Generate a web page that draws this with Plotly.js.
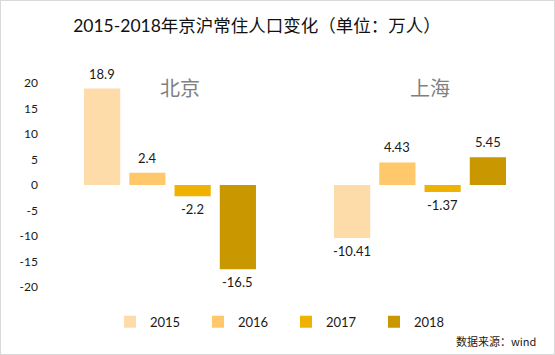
<!DOCTYPE html>
<html><head><meta charset="utf-8">
<script src="https://cdn.plot.ly/plotly-3.0.1.min.js"></script>
<style>
html,body{margin:0;padding:0;background:#fff;}
#chart{width:553px;height:353px;border:1px solid #d9d9d9;}
</style>
</head><body>
<div id="chart"></div>
<script>
const categories = ['北京', '上海'];
const years = ['2015', '2016', '2017', '2018'];
const v2015 = [18.9, -10.41];
const v2016 = [2.4, 4.43];
const v2017 = [-2.2, -1.37];
const v2018 = [-16.5, 5.45];
const labels2015 = ['18.9', '-10.41'];
const labels2016 = ['2.4', '4.43'];
const labels2017 = ['-2.2', '-1.37'];
const labels2018 = ['-16.5', '5.45'];
const yTicks = [20, 15, 10, 5, 0, -5, -10, -15, -20];
const source = '数据来源：wind';
const title = '2015-2018年京沪常住人口变化（单位：万人）';

const colors = ['#FDDCAA', '#FFC86A', '#F0B200', '#C99700'];
const series = [v2015, v2016, v2017, v2018];
const seriesLabels = [labels2015, labels2016, labels2017, labels2018];
const font = 'Lato, "Noto Sans CJK SC", sans-serif';

const bargap = 0.276;
const nS = series.length;
const slot = (1 - bargap) / nS;

const traces = series.map((vals, i) => ({
  type: 'bar', name: years[i], x: categories, y: vals,
  marker: {color: colors[i]}, hoverinfo: 'none'
}));

const annotations = [];
series.forEach((vals, i) => {
  vals.forEach((v, j) => {
    annotations.push({
      x: j - (1 - bargap) / 2 + slot * (i + 0.5), y: v, xref: 'x', yref: 'y',
      text: seriesLabels[i][j], showarrow: false,
      yshift: v >= 0 ? 15 : -13,
      font: {family: font, size: 13, color: '#1a1a1a'}
    });
  });
});
categories.forEach((c, j) => {
  annotations.push({
    x: j + 0.04, y: 1, xref: 'x', yref: 'paper', yanchor: 'middle', yshift: -4,
    text: c, showarrow: false,
    font: {family: '"Noto Sans CJK SC", sans-serif', size: 20, color: '#808080'}
  });
});
annotations.push({
  x: 0.986, y: -0.265, xref: 'paper', yref: 'paper', xanchor: 'right', yanchor: 'middle',
  text: source, showarrow: false,
  font: {family: '"Noto Sans CJK SC", sans-serif', size: 11, color: '#1a1a1a'}
});

const layout = {
  width: 553, height: 353,
  margin: {l: 44, r: 9, t: 82, b: 67},
  paper_bgcolor: '#fff', plot_bgcolor: '#fff',
  title: {text: title, x: 0.463, xanchor: 'center', y: 0.93, yanchor: 'middle', yref: 'container',
          font: {family: font, size: 17.5, color: '#111'}},
  barmode: 'group', bargap: bargap, bargroupgap: 0.2,
  xaxis: {showticklabels: false, showline: false, showgrid: false, zeroline: false, ticks: '',
          range: [-0.5, 1.5]},
  yaxis: {range: [-20, 20], tickvals: yTicks, ticktext: yTicks.map(String),
          showgrid: false, zeroline: false, showline: false, ticks: '', ticklabelstandoff: 6,
          tickfont: {family: font, size: 12, color: '#1a1a1a'}},
  showlegend: true,
  legend: {orientation: 'h', x: 0.13, xanchor: 'left', y: -0.17, yanchor: 'middle',
           entrywidth: 43, entrywidthmode: 'pixels', itemwidth: 30,
           font: {family: font, size: 13, color: '#1a1a1a'}},
  annotations: annotations
};

Plotly.newPlot('chart', traces, layout, {displayModeBar: false, staticPlot: true});
</script>
</body></html>
